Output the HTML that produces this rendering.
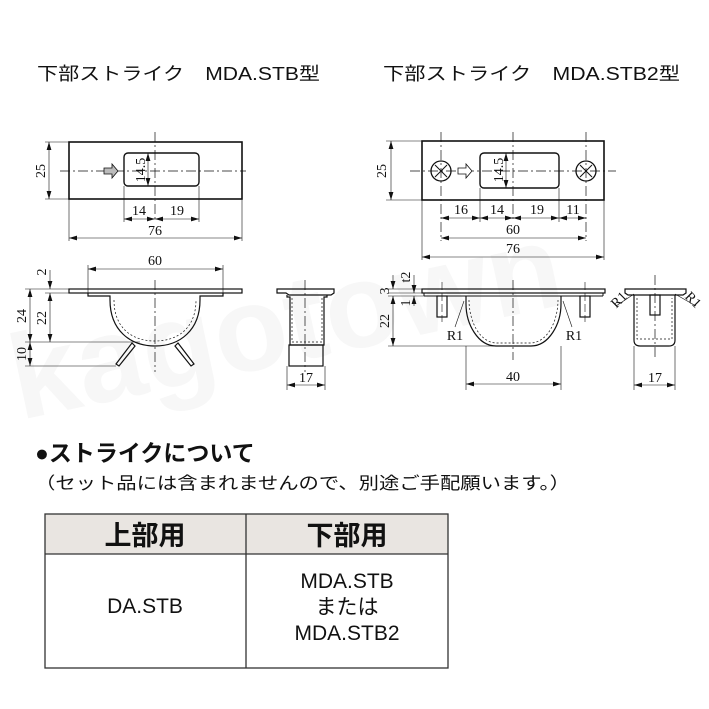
<!DOCTYPE html>
<html><head><meta charset="utf-8"><style>
html,body{margin:0;padding:0;background:#fff;}
svg{display:block;}
.t{font-family:"Liberation Sans","Noto Sans CJK JP",sans-serif;}
.s{font-family:"Liberation Serif",serif;font-size:14px;fill:#111;}
</style></head><body>
<svg width="709" height="709" viewBox="0 0 709 709" xmlns="http://www.w3.org/2000/svg">
<defs>
<marker id="a" viewBox="0 0 10 6" refX="10" refY="3" markerWidth="8" markerHeight="5" orient="auto-start-reverse" markerUnits="userSpaceOnUse"><path d="M0,0L10,3L0,6z" fill="#111"/></marker>
</defs>
<!-- watermark -->
<text x="20" y="420" class="t" font-size="120" font-weight="bold" fill="#f7f7f7" transform="rotate(-12 20 420)">kagotown</text>

<text x="37" y="80" class="t" font-size="18" fill="#111" textLength="283" lengthAdjust="spacingAndGlyphs">下部ストライク　MDA.STB型</text>
<text x="383" y="80" class="t" font-size="18" fill="#111" textLength="297" lengthAdjust="spacingAndGlyphs">下部ストライク　MDA.STB2型</text>

<g stroke="#111" fill="none" stroke-width="1">
<!-- LEFT top view -->
<rect x="69" y="142" width="173" height="57" stroke-width="1.6"/>
<rect x="124" y="153" width="75" height="33" rx="4" stroke-width="1.4"/>
<line x1="60" y1="171" x2="246" y2="171" stroke-dasharray="10,3,2,3" stroke-width="0.7"/>
<line x1="155" y1="132" x2="155" y2="222" stroke-dasharray="10,3,2,3" stroke-width="0.7"/>
<path d="M104,168h8v-4l6,7l-6,7v-4h-8z" fill="#bbb" stroke-width="0.8"/>
<line x1="45" y1="142" x2="69" y2="142" stroke-width="0.6"/>
<line x1="45" y1="199" x2="69" y2="199" stroke-width="0.6"/>
<line x1="49" y1="142" x2="49" y2="199" marker-start="url(#a)" marker-end="url(#a)" stroke-width="0.6"/>
<line x1="148" y1="153" x2="148" y2="186" marker-start="url(#a)" marker-end="url(#a)" stroke-width="0.6"/>
<line x1="124" y1="186" x2="124" y2="222" stroke-width="0.6"/>
<line x1="199" y1="186" x2="199" y2="222" stroke-width="0.6"/>
<line x1="124" y1="219" x2="155" y2="219" marker-start="url(#a)" marker-end="url(#a)" stroke-width="0.6"/>
<line x1="155" y1="219" x2="199" y2="219" marker-start="url(#a)" marker-end="url(#a)" stroke-width="0.6"/>
<line x1="69" y1="199" x2="69" y2="241" stroke-width="0.6"/>
<line x1="242" y1="199" x2="242" y2="241" stroke-width="0.6"/>
<line x1="69" y1="238" x2="242" y2="238" marker-start="url(#a)" marker-end="url(#a)" stroke-width="0.6"/>

<!-- LEFT side view -->
<rect x="69" y="289" width="173" height="4" stroke-width="1.2"/>
<path d="M88,293v3h22v4c0,30 20,46 45,46c25,0 45,-16 45,-46v-4h23v-3" stroke-width="1.2"/>
<path d="M114,300c0,28 18,41 41,41c23,0 41,-13 41,-41" stroke-dasharray="2,2" stroke-width="0.7"/>
<path d="M132,343l-16,21l3,2l16,-20z M178,343l16,21l-3,2l-16,-20z" stroke-width="1.2"/>
<line x1="88" y1="265" x2="88" y2="293" stroke-width="0.6"/>
<line x1="223" y1="265" x2="223" y2="293" stroke-width="0.6"/>
<line x1="88" y1="269" x2="223" y2="269" marker-start="url(#a)" marker-end="url(#a)" stroke-width="0.6"/>
<line x1="155" y1="280" x2="155" y2="372" stroke-dasharray="10,3,2,3" stroke-width="0.7"/>
<line x1="25" y1="289" x2="69" y2="289" stroke-width="0.6"/>
<line x1="45" y1="293" x2="88" y2="293" stroke-width="0.6"/>
<line x1="25" y1="342" x2="140" y2="342" stroke-width="0.6"/>
<line x1="25" y1="366" x2="116" y2="366" stroke-width="0.6"/>
<line x1="50" y1="270" x2="50" y2="289" marker-end="url(#a)" stroke-width="0.6"/>
<line x1="50" y1="293" x2="50" y2="342" marker-start="url(#a)" marker-end="url(#a)" stroke-width="0.6"/>
<line x1="30" y1="289" x2="30" y2="342" marker-start="url(#a)" marker-end="url(#a)" stroke-width="0.6"/>
<line x1="30" y1="342" x2="30" y2="366" marker-start="url(#a)" marker-end="url(#a)" stroke-width="0.6"/>

<!-- LEFT end view -->
<path d="M277,289h57v4l-3,2h-42l-3,-2h-9z" stroke-width="1.2"/>
<path d="M287,295v2h3v48h34v-48h3v-2" stroke-width="1.2"/>
<rect x="289" y="345" width="34" height="21" stroke-width="1.2"/>
<path d="M292,298v44h30v-44" stroke-dasharray="2,2" stroke-width="0.7"/>
<line x1="305" y1="280" x2="305" y2="372" stroke-dasharray="10,3,2,3" stroke-width="0.7"/>
<line x1="287" y1="366" x2="287" y2="390" stroke-width="0.6"/>
<line x1="325" y1="366" x2="325" y2="390" stroke-width="0.6"/>
<line x1="287" y1="385" x2="325" y2="385" marker-start="url(#a)" marker-end="url(#a)" stroke-width="0.6"/>

<!-- RIGHT top view -->
<rect x="422" y="141" width="182" height="59" stroke-width="1.6"/>
<rect x="480" y="153" width="79" height="35" rx="4" stroke-width="1.4"/>
<circle cx="441" cy="171" r="10" stroke-width="1.3"/>
<circle cx="586" cy="171" r="10" stroke-width="1.3"/>
<path d="M435,165l12,12M447,165l-12,12M580,165l12,12M592,165l-12,12" stroke-width="1"/>
<line x1="410" y1="171" x2="616" y2="171" stroke-dasharray="10,3,2,3" stroke-width="0.7"/>
<line x1="513" y1="132" x2="513" y2="222" stroke-dasharray="10,3,2,3" stroke-width="0.7"/>
<line x1="441" y1="132" x2="441" y2="241" stroke-dasharray="10,3,2,3" stroke-width="0.7"/>
<line x1="586" y1="132" x2="586" y2="241" stroke-dasharray="10,3,2,3" stroke-width="0.7"/>
<path d="M458,168h8v-4l6,7l-6,7v-4h-8z" fill="#fff" stroke-width="0.8"/>
<line x1="386" y1="141" x2="422" y2="141" stroke-width="0.6"/>
<line x1="386" y1="200" x2="422" y2="200" stroke-width="0.6"/>
<line x1="391" y1="141" x2="391" y2="200" marker-start="url(#a)" marker-end="url(#a)" stroke-width="0.6"/>
<line x1="506" y1="153" x2="506" y2="188" marker-start="url(#a)" marker-end="url(#a)" stroke-width="0.6"/>
<line x1="480" y1="188" x2="480" y2="222" stroke-width="0.6"/>
<line x1="559" y1="188" x2="559" y2="222" stroke-width="0.6"/>
<line x1="441" y1="218" x2="480" y2="218" marker-start="url(#a)" marker-end="url(#a)" stroke-width="0.6"/>
<line x1="480" y1="218" x2="513" y2="218" marker-start="url(#a)" marker-end="url(#a)" stroke-width="0.6"/>
<line x1="513" y1="218" x2="559" y2="218" marker-start="url(#a)" marker-end="url(#a)" stroke-width="0.6"/>
<line x1="559" y1="218" x2="586" y2="218" marker-start="url(#a)" marker-end="url(#a)" stroke-width="0.6"/>
<line x1="441" y1="238" x2="586" y2="238" marker-start="url(#a)" marker-end="url(#a)" stroke-width="0.6"/>
<line x1="422" y1="200" x2="422" y2="260" stroke-width="0.6"/>
<line x1="604" y1="200" x2="604" y2="260" stroke-width="0.6"/>
<line x1="422" y1="257" x2="604" y2="257" marker-start="url(#a)" marker-end="url(#a)" stroke-width="0.6"/>

<!-- RIGHT side view -->
<rect x="422" y="289" width="183" height="4" stroke-width="1.2"/>
<line x1="424" y1="296" x2="603" y2="296" stroke-width="1"/>
<line x1="424" y1="293" x2="424" y2="296" stroke-width="1"/>
<line x1="603" y1="293" x2="603" y2="296" stroke-width="1"/>
<rect x="437" y="296" width="10" height="21" stroke-width="1.2"/>
<rect x="580" y="296" width="10" height="21" stroke-width="1.2"/>
<path d="M466,296v8c0,20 12,42 30,42h35c18,0 30,-22 30,-42v-8" stroke-width="1.2"/>
<path d="M469,300c0,20 10,43 28,43h33c18,0 28,-23 28,-43" stroke-dasharray="2,2" stroke-width="0.7"/>
<line x1="513" y1="280" x2="513" y2="360" stroke-dasharray="10,3,2,3" stroke-width="0.7"/>
<line x1="442" y1="282" x2="442" y2="322" stroke-dasharray="8,3" stroke-width="0.6"/>
<line x1="585" y1="282" x2="585" y2="322" stroke-dasharray="8,3" stroke-width="0.6"/>
<line x1="466" y1="346" x2="466" y2="390" stroke-width="0.6"/>
<line x1="561" y1="346" x2="561" y2="390" stroke-width="0.6"/>
<line x1="466" y1="384" x2="561" y2="384" marker-start="url(#a)" marker-end="url(#a)" stroke-width="0.6"/>
<line x1="388" y1="289" x2="422" y2="289" stroke-width="0.6"/>
<line x1="388" y1="293" x2="422" y2="293" stroke-width="0.6"/>
<line x1="388" y1="296" x2="424" y2="296" stroke-width="0.6"/>
<line x1="388" y1="346" x2="500" y2="346" stroke-width="0.6"/>
<line x1="393" y1="275" x2="393" y2="289" marker-end="url(#a)" stroke-width="0.6"/>
<line x1="393" y1="296" x2="393" y2="346" marker-start="url(#a)" marker-end="url(#a)" stroke-width="0.6"/>
<line x1="414" y1="275" x2="414" y2="293" marker-end="url(#a)" stroke-width="0.6"/>
<line x1="414" y1="296" x2="414" y2="306" marker-start="url(#a)" stroke-width="0.6"/>
<line x1="455" y1="327" x2="464" y2="301" stroke-width="0.6"/>
<line x1="572" y1="327" x2="563" y2="301" stroke-width="0.6"/>

<!-- RIGHT end view -->
<path d="M625,289h61v4l-3,2h-55l-3,-2z" stroke-width="1.2"/>
<path d="M634,295v45c0,4 2,6 6,6h29c4,0 6,-2 6,-6v-45" stroke-width="1.2"/>
<path d="M637,298v41h35v-41" stroke-dasharray="2,2" stroke-width="0.7"/>
<rect x="650" y="295" width="10" height="20" stroke-width="1.2"/>
<line x1="655" y1="275" x2="655" y2="360" stroke-dasharray="10,3,2,3" stroke-width="0.7"/>
<line x1="616" y1="306" x2="634" y2="294" stroke-width="0.6"/>
<line x1="696" y1="306" x2="675" y2="294" stroke-width="0.6"/>
<line x1="634" y1="346" x2="634" y2="390" stroke-width="0.6"/>
<line x1="675" y1="346" x2="675" y2="390" stroke-width="0.6"/>
<line x1="634" y1="385" x2="675" y2="385" marker-start="url(#a)" marker-end="url(#a)" stroke-width="0.6"/>
</g>

<!-- dimension labels -->
<g class="s">
<text x="45" y="171" transform="rotate(-90 45 171)" text-anchor="middle">25</text>
<text x="145" y="170" transform="rotate(-90 145 170)" text-anchor="middle">14.5</text>
<text x="139" y="215" text-anchor="middle">14</text>
<text x="177" y="215" text-anchor="middle">19</text>
<text x="155" y="235" text-anchor="middle">76</text>
<text x="155" y="265" text-anchor="middle">60</text>
<text x="46" y="272" transform="rotate(-90 46 272)" text-anchor="middle">2</text>
<text x="46" y="318" transform="rotate(-90 46 318)" text-anchor="middle">22</text>
<text x="26" y="316" transform="rotate(-90 26 316)" text-anchor="middle">24</text>
<text x="26" y="354" transform="rotate(-90 26 354)" text-anchor="middle">10</text>
<text x="306" y="382" text-anchor="middle">17</text>

<text x="386" y="171" transform="rotate(-90 386 171)" text-anchor="middle">25</text>
<text x="503" y="170" transform="rotate(-90 503 170)" text-anchor="middle">14.5</text>
<text x="461" y="214" text-anchor="middle">16</text>
<text x="497" y="214" text-anchor="middle">14</text>
<text x="537" y="214" text-anchor="middle">19</text>
<text x="573" y="214" text-anchor="middle">11</text>
<text x="513" y="234" text-anchor="middle">60</text>
<text x="513" y="253" text-anchor="middle">76</text>
<text x="389" y="291" transform="rotate(-90 389 291)" text-anchor="middle">3</text>
<text x="410" y="303" transform="rotate(-90 410 303)" text-anchor="middle">1</text>
<text x="410" y="277" transform="rotate(-90 410 277)" text-anchor="middle">t2</text>
<text x="389" y="321" transform="rotate(-90 389 321)" text-anchor="middle">22</text>
<text x="455" y="340" text-anchor="middle">R1</text>
<text x="574" y="340" text-anchor="middle">R1</text>
<text x="513" y="381" text-anchor="middle">40</text>
<text x="622" y="303" transform="rotate(-45 622 303)" text-anchor="middle">R1</text>
<text x="690" y="303" transform="rotate(45 690 303)" text-anchor="middle">R1</text>
<text x="655" y="382" text-anchor="middle">17</text>
</g>

<text x="35" y="461" class="t" font-size="23" font-weight="bold" fill="#111">●ストライクについて</text>
<text x="35" y="489" class="t" font-size="17" fill="#111" textLength="535" lengthAdjust="spacingAndGlyphs">（セット品には含まれませんので、別途ご手配願います。）</text>

<rect x="45" y="514" width="403" height="40" fill="#e9e5e1"/>
<rect x="45" y="514" width="403" height="154" fill="none" stroke="#333" stroke-width="1.3"/>
<line x1="45" y1="554" x2="448" y2="554" stroke="#333" stroke-width="1.3"/>
<line x1="246" y1="514" x2="246" y2="668" stroke="#333" stroke-width="1.3"/>
<g class="t" fill="#111" text-anchor="middle">
<text x="145" y="545" font-size="27" font-weight="bold">上部用</text>
<text x="347" y="545" font-size="27" font-weight="bold">下部用</text>
<text x="145" y="613" font-size="21">DA.STB</text>
<text x="347" y="588" font-size="21">MDA.STB</text>
<text x="347" y="614" font-size="21">または</text>
<text x="347" y="640" font-size="21">MDA.STB2</text>
</g>
</svg>
</body></html>
